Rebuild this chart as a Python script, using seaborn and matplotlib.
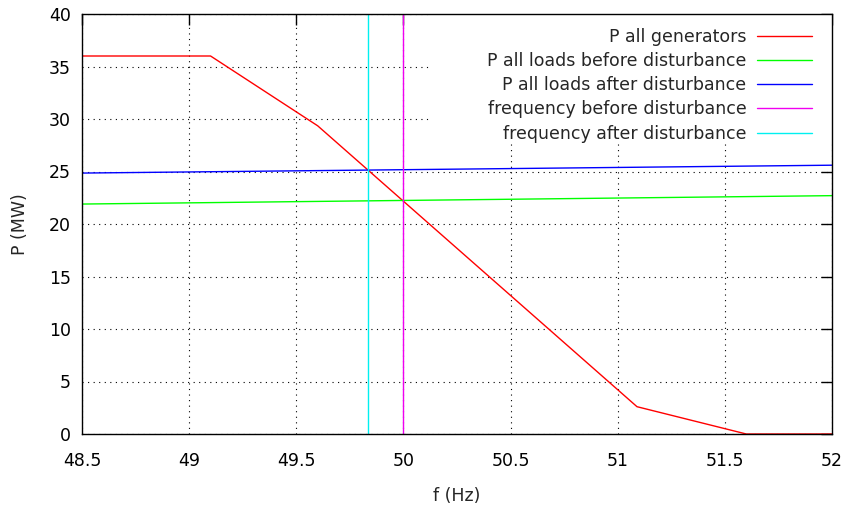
import numpy as np
import pandas as pd
import matplotlib
matplotlib.use('Agg')
import matplotlib.pyplot as plt
from matplotlib.patches import Rectangle
import seaborn as sns

# generator curve (f, P)
gen_f = [48.5, 49.1, 49.6, 51.09, 51.6, 52.0]
gen_p = [36.0, 36.0, 29.35, 2.6, 0.0, 0.0]

# loads
load_f = [48.5, 52.0]
load_before = [21.9, 22.7]
load_after = [24.85, 25.6]

# frequencies
f_before = 50.0
f_after = 49.835

sns.set_style('white')
plt.rcParams['font.family'] = ['DejaVu Sans']
plt.rcParams['font.size'] = 12.5

fig = plt.figure(figsize=(8.48, 5.08), dpi=100)
ax = fig.add_axes([82/848, 74/508, 750/848, 420/508])

df_gen = pd.DataFrame({'f': gen_f, 'P': gen_p})
df_load = pd.DataFrame({'f': load_f, 'before': load_before, 'after': load_after})

sns.lineplot(data=df_gen, x='f', y='P', color='#ff0000', lw=1,
             label='P all generators', ax=ax)
sns.lineplot(data=df_load, x='f', y='before', color='#00ff00', lw=1,
             label='P all loads before disturbance', ax=ax)
sns.lineplot(data=df_load, x='f', y='after', color='#0000ff', lw=1,
             label='P all loads after disturbance', ax=ax)
ax.axvline(f_before, color='#f000f0', lw=1, label='frequency before disturbance')
ax.axvline(f_after, color='#00f0f0', lw=1, label='frequency after disturbance')

ax.set_xlim(48.5, 52)
ax.set_ylim(0, 40)
ax.set_xticks([48.5, 49, 49.5, 50, 50.5, 51, 51.5, 52])
ax.set_xticklabels(['48.5', '49', '49.5', '50', '50.5', '51', '51.5', '52'])
ax.set_yticks(range(0, 41, 5))
ax.set_axisbelow(True)
ax.grid(True, color='black', linestyle=(0, (1, 4)), lw=0.8)
ax.tick_params(direction='in', length=8, width=1, top=True, right=True,
               labelsize=12.5, colors='black')
ax.tick_params(axis='x', pad=13)
ax.tick_params(axis='y', pad=8)
for s in ax.spines.values():
    s.set_color('black')
    s.set_linewidth(1)
    s.set_zorder(3)
ax.set_xlabel('f (Hz)', fontsize=12.5, labelpad=12)
ax.set_ylabel('P (MW)', fontsize=12.5, labelpad=14)

# white key area hides the grid like gnuplot does
ax.add_patch(Rectangle((0.467, 0.695), 0.533, 0.305, transform=ax.transAxes,
                       facecolor='white', edgecolor='none', zorder=1))

leg = ax.legend(loc='upper right', bbox_to_anchor=(1 - 4/750, 1 + 2/420),
                markerfirst=False, frameon=False,
                handlelength=3.2, handletextpad=0.6, labelspacing=0.36,
                borderaxespad=0.5, borderpad=0.4, fontsize=12.5)

fig.savefig('out.png', dpi=100)
